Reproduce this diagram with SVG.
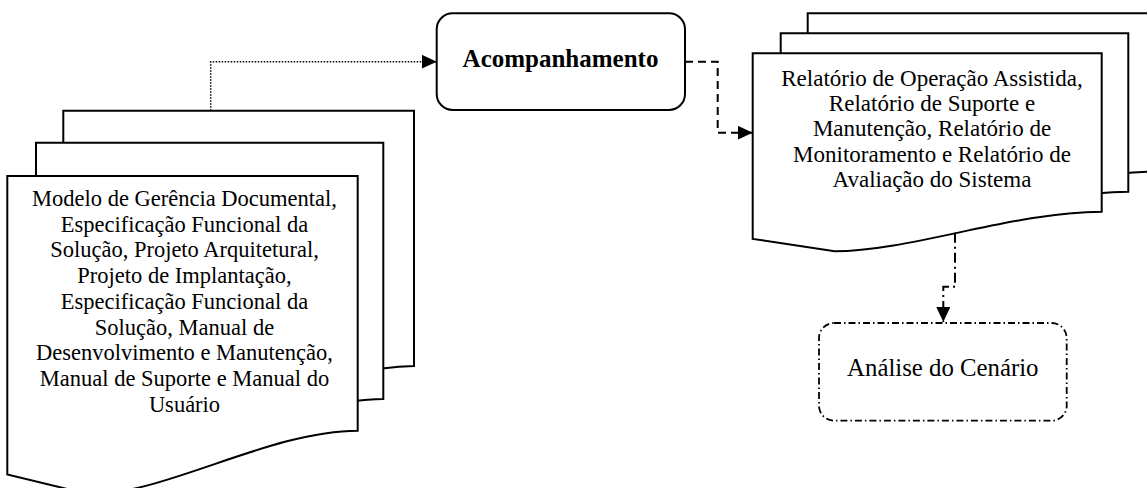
<svg xmlns="http://www.w3.org/2000/svg" width="1147" height="488" viewBox="0 0 1147 488">
  <style>
    .page { fill: #fff; stroke: #000; stroke-width: 2; stroke-linejoin: miter; }
    .box { fill: #fff; stroke: #000; stroke-width: 2; }
    .boxdd { fill: #fff; stroke: #000; stroke-width: 1.8; stroke-dasharray: 7 3 1.5 3; }
    .txt { font-family: "Liberation Serif", "Times New Roman", serif; fill: #000; text-anchor: middle; }
    .link { fill: none; stroke: #000; }
    .dotted { stroke-width: 1.5; stroke-dasharray: 1.5 1.5; }
    .dashed { stroke-width: 2; stroke-dasharray: 8 5; }
    .dashdot { stroke-width: 2; stroke-dasharray: 10 4 2 4; }
  </style>
  <defs>
    <marker id="arrow" markerUnits="userSpaceOnUse" markerWidth="15" markerHeight="14" viewBox="0 0 15 14" refX="15" refY="7" orient="auto">
      <path d="M0,0 L15,7 L0,14 Z" fill="#000"/>
    </marker>
  </defs>

  <!-- Input documents (stack of three pages) -->
  <g id="docs-entrada">
    <path class="page" d="M63.3,110.7 H414 V366 C326.3,366 221,430 134.5,430 L63.3,410 Z"/>
    <path class="page" d="M36,142.7 H383.3 V399 C296.5,399 192,463 117.5,463 L36,443 Z"/>
    <path class="page" d="M7.3,176 H357.7 V430.7 C270.1,430.7 165,494.4 89.6,494.4 L7.3,474.5 Z"/>
    <g class="txt" font-size="22.5">
      <text x="184.5" y="206">Modelo de Gerência Documental,</text>
      <text x="184.5" y="231.7">Especificação Funcional da</text>
      <text x="184.5" y="257.4">Solução, Projeto Arquitetural,</text>
      <text x="184.5" y="283.1">Projeto de Implantação,</text>
      <text x="184.5" y="308.8">Especificação Funcional da</text>
      <text x="184.5" y="334.5">Solução, Manual de</text>
      <text x="184.5" y="360.2">Desenvolvimento e Manutenção,</text>
      <text x="184.5" y="385.9">Manual de Suporte e Manual do</text>
      <text x="184.5" y="411.6">Usuário</text>
    </g>
  </g>

  <!-- Process box -->
  <g id="acompanhamento">
    <rect class="box" x="436.7" y="13.3" width="248.3" height="96.7" rx="16" ry="16"/>
    <text class="txt" x="560.5" y="67" font-size="25" font-weight="bold">Acompanhamento</text>
  </g>

  <!-- Output reports (stack of three pages) -->
  <g id="relatorios">
    <path class="page" d="M807.7,13.3 H1156.7 V171.7 C1069.5,171.7 964.8,211.3 889.7,211.3 L807.7,198.9 Z"/>
    <path class="page" d="M780.7,33.3 H1128.3 V191.7 C1041.4,191.7 937.1,231.3 862.4,231.3 L780.7,218.9 Z"/>
    <path class="page" d="M752.7,53.3 H1101.7 V211.7 C1014.5,211.7 909.7,251.3 834.7,251.3 L752.7,238.9 Z"/>
    <g class="txt" font-size="23">
      <text x="932" y="86">Relatório de Operação Assistida,</text>
      <text x="932" y="111.2">Relatório de Suporte e</text>
      <text x="932" y="136.4">Manutenção, Relatório de</text>
      <text x="932" y="161.6">Monitoramento e Relatório de</text>
      <text x="932" y="186.8">Avaliação do Sistema</text>
    </g>
  </g>

  <!-- Scenario analysis box -->
  <g id="analise-cenario">
    <rect class="boxdd" x="819" y="323" width="247.7" height="97.7" rx="15" ry="15"/>
    <text class="txt" x="942.8" y="375.7" font-size="24.8">Análise do Cenário</text>
  </g>

  <!-- Connectors -->
  <g id="connectors">
    <path class="link dotted" d="M210.7,110.7 V61.7 H436.7" marker-end="url(#arrow)"/>
    <path class="link dashed" d="M685,61.7 H717.7 V132.7 H752.7" marker-end="url(#arrow)"/>
    <path class="link dashdot" d="M955,232.7 V286.7 H943.3 V322" marker-end="url(#arrow)"/>
  </g>
</svg>
